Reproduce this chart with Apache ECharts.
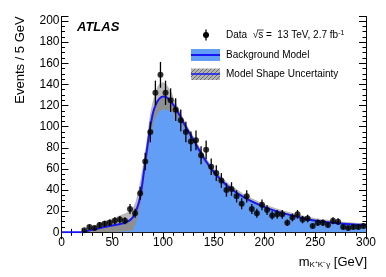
<!DOCTYPE html>
<html>
<head>
<meta charset="utf-8">
<script src="https://cdn.jsdelivr.net/npm/echarts@6/dist/echarts.min.js"></script>
<style>
html,body{margin:0;padding:0;background:#fff;}
#c{width:386px;height:277px;}
</style>
</head>
<body>
<div id="c"></div>
<script>
// ---- data ----
const binCenters = [22.5,27.5,32.5,37.5,42.5,47.5,52.5,57.5,62.5,67.5,72.5,77.5,82.5,87.5,92.5,97.5,102.5,107.5,112.5,117.5,122.5,127.5,132.5,137.5,142.5,147.5,152.5,157.5,162.5,167.5,172.5,177.5,182.5,187.5,192.5,197.5,202.5,207.5,212.5,217.5,222.5,227.5,232.5,237.5,242.5,247.5,252.5,257.5,262.5,267.5,272.5,277.5,282.5,287.5,292.5,297.5];
const counts = [2,5,4,7,8,9,11,12,11,22,18,37,67,95,132,149,132,125,116,106,95,86,87,73,78,62,56,49,40,41,34,27,34,22,18,26,21,16,17,17,9,14,17,12,13,6,9,9,7,11,10,5,4,5,5,6];
const countErr = [1.4,2.2,2.0,2.6,2.8,3.0,3.3,3.5,3.3,4.7,4.2,6.1,8.2,9.7,11.5,12.2,11.5,11.2,10.8,10.3,9.7,9.3,9.3,8.5,8.8,7.9,7.5,7.0,6.3,6.4,5.8,5.2,5.8,4.7,4.2,5.1,4.6,4.0,4.1,4.1,3.0,3.7,4.1,3.5,3.6,2.4,3.0,3.0,2.6,3.3,3.2,2.2,2.0,2.2,2.2,2.4];

const modelMass = [0,20,22,30,40,50,60,65,70,73,76,78,81,84,87,90,93,96,100,104,108,112,116,120,125,130,140,150,163,180,196,212,230,245,260,275,290,300];
const modelBkg  = [0,0,0.4,2.3,4.6,6.4,8.4,10,14,19.5,27.5,35.5,56,77,97,112.5,121,126,128.5,127.5,123.5,118.2,111.5,104.2,95.5,87.5,70.5,57.3,44.3,33,25.5,19.8,15.2,11.8,9.8,8.3,7.3,6.8];
const bandUpper = [0,0,1.5,5,10,13,17,19,23,29,41,51,68,87,110,124,134,140,142,139,133,124,116,108,99,91,74,60.5,47.5,36,28.5,22.5,17.7,14.3,12,10.2,9,8.5];
const bandLower = [0,0,0,0,0,0.3,0.8,1.2,2,8,19,27,46,66,85,100,109,114,116,116,114.5,111,106,100,92,84.5,68,55.2,42.6,31.6,24.3,18.8,14.3,11.1,9.2,7.8,6.8,6.3];

const xTicks = [0,50,100,150,200,250,300];
const yTicks = [0,20,40,60,80,100,120,140,160,180,200];

const FONT = "'Liberation Sans', Arial, Helvetica, sans-serif";

function zip(a,b){return a.map((v,i)=>[v,b[i]]);}
const points = binCenters.map((x,i)=>[x,counts[i],countErr[i]]);

// hatch pattern for legend
const pc = document.createElement('canvas');
pc.width = 4; pc.height = 4;
const pctx = pc.getContext('2d');
pctx.fillStyle = '#b4b4b4'; pctx.fillRect(0,0,4,4);
pctx.strokeStyle = '#6e6e6e'; pctx.lineWidth = 1;
pctx.beginPath(); pctx.moveTo(0,4); pctx.lineTo(4,0); pctx.stroke();

// measure for sqrt overline
const mc = document.createElement('canvas').getContext('2d');
mc.font = "10px " + FONT;
const preW = mc.measureText('Data  √').width;
const sW = mc.measureText('s').width;

const chart = echarts.init(document.getElementById('c'), null, {renderer:'canvas'});

const BLUE_FILL = '#629df6';
const LINE_BLUE = '#1616f5';
const GRAY_LIGHT = '#b9b9b9';
const GRAY_DARK = '#8f8f8f';

const baseX = {
  type:'value', min:0, max:300, interval:50,
  axisLine:{show:true, lineStyle:{color:'#000', width:1}},
  axisTick:{show:true, inside:true, length:7, lineStyle:{color:'#000'}},
  minorTick:{show:true, splitNumber:5, length:3.5, lineStyle:{color:'#000'}},
  splitLine:{show:false}, minorSplitLine:{show:false}
};
const baseY = {
  type:'value', min:0, max:204,
  axisLine:{show:true, lineStyle:{color:'#000', width:1}},
  splitLine:{show:false}
};

const option = {
  animation:false,
  backgroundColor:'#fff',
  textStyle:{fontFamily:FONT},
  grid:{left:61.5, right:20, top:16.7, bottom:44.7, containLabel:false},
  xAxis:[
    Object.assign({}, baseX, {position:'bottom',
      axisLabel:{show:true, color:'#000', fontSize:12, fontFamily:FONT, margin:4,
        formatter:(v)=> xTicks.indexOf(v)>=0 ? String(v) : ''}}),
    Object.assign({}, baseX, {position:'top', axisLabel:{show:false}})
  ],
  yAxis:[
    Object.assign({}, baseY, {position:'left', interval:20,
      axisTick:{show:true, inside:true, length:7, lineStyle:{color:'#000'}},
      axisLabel:{show:true, color:'#000', fontSize:12, fontFamily:FONT, margin:2,
        formatter:(v)=> yTicks.indexOf(v)>=0 ? String(v) : ''}}),
    Object.assign({}, baseY, {position:'left', interval:5,
      axisTick:{show:true, inside:true, length:3.5, lineStyle:{color:'#000'}},
      axisLabel:{show:false}}),
    Object.assign({}, baseY, {position:'right', interval:20,
      axisTick:{show:true, inside:true, length:7, lineStyle:{color:'#000'}},
      axisLabel:{show:false}}),
    Object.assign({}, baseY, {position:'right', interval:5,
      axisTick:{show:true, inside:true, length:3.5, lineStyle:{color:'#000'}},
      axisLabel:{show:false}})
  ],
  series:[
    {type:'line', name:'upper', data:zip(modelMass,bandUpper), smooth:0.25, symbol:'none',
      lineStyle:{width:0}, areaStyle:{color:GRAY_LIGHT, opacity:1}, z:1, silent:true},
    {type:'line', name:'modelUnder', data:zip(modelMass,modelBkg), smooth:0.25, symbol:'none',
      lineStyle:{width:0}, areaStyle:{color:GRAY_DARK, opacity:1}, z:2, silent:true},
    {type:'line', name:'lower', data:zip(modelMass,bandLower), smooth:0.25, symbol:'none',
      lineStyle:{width:0}, areaStyle:{color:BLUE_FILL, opacity:1}, z:3, silent:true},
    {type:'line', name:'Background Model', data:zip(modelMass,modelBkg), smooth:0.25, symbol:'none',
      lineStyle:{width:2, color:LINE_BLUE}, z:4, silent:true},
    {type:'custom', name:'err', data:points, encode:{x:0,y:1}, z:5, silent:true,
      renderItem:(params, api)=>{
        const x = api.value(0), y = api.value(1), e = api.value(2);
        const p1 = api.coord([x, y-e]); const p2 = api.coord([x, y+e]);
        return {type:'line', shape:{x1:p1[0], y1:p1[1], x2:p2[0], y2:p2[1]},
          style:{stroke:'#000', lineWidth:1.3}};
      }},
    {type:'scatter', name:'Data', data:points.map(p=>[p[0],p[1]]), symbol:'circle', symbolSize:6,
      itemStyle:{color:'#000'}, z:6, silent:true}
  ],
  graphic:[
    // ATLAS label
    {type:'text', x:77, y:27.5, style:{text:'ATLAS', font:"italic bold 13px "+FONT, fill:'#000', textVerticalAlign:'middle'}},
    // y axis title
    {type:'text', x:20, y:60, rotation:Math.PI/2,
      style:{text:'Events / 5 GeV', font:"13px "+FONT, fill:'#000', textAlign:'center', textVerticalAlign:'middle'}},
    // x axis title
    {type:'text', x:367, y:261,
      style:{text:'{a|m}{s|K⁺K⁻γ}{a| [GeV]}', textAlign:'right', textVerticalAlign:'middle', fill:'#000',
        rich:{a:{fontSize:13, fontFamily:FONT, fill:'#000', verticalAlign:'bottom', lineHeight:15},
              s:{fontSize:8, fontFamily:FONT, fill:'#000', verticalAlign:'bottom', lineHeight:10}}}},
    // legend: data
    {type:'line', shape:{x1:206, y1:29.5, x2:206, y2:40.5}, style:{stroke:'#000', lineWidth:1.3}},
    {type:'circle', shape:{cx:206, cy:35, r:3}, style:{fill:'#000'}},
    {type:'text', x:226, y:35,
      style:{text:'{a|Data  √s =  13 TeV, 2.7 fb}{b|-1}', textVerticalAlign:'middle', fill:'#000',
        rich:{a:{fontSize:10, fontFamily:FONT, fill:'#000'}, b:{fontSize:7, fontFamily:FONT, fill:'#000', verticalAlign:'top'}}}},
    {type:'line', shape:{x1:226+preW-1, y1:30, x2:226+preW+sW+0.5, y2:30}, style:{stroke:'#000', lineWidth:0.7}},
    // legend: background model
    {type:'rect', shape:{x:191, y:49, width:29, height:12}, style:{fill:BLUE_FILL}},
    {type:'line', shape:{x1:191, y1:55, x2:220, y2:55}, style:{stroke:LINE_BLUE, lineWidth:2}},
    {type:'text', x:226, y:55, style:{text:'Background Model', font:"10px "+FONT, fill:'#000', textVerticalAlign:'middle'}},
    // legend: shape uncertainty
    {type:'rect', shape:{x:191, y:68.5, width:29, height:11.5}, style:{fill:{image:pc, repeat:'repeat'}}},
    {type:'line', shape:{x1:191, y1:74, x2:220, y2:74}, style:{stroke:LINE_BLUE, lineWidth:1.5}},
    {type:'text', x:226, y:74.5, style:{text:'Model Shape Uncertainty', font:"10px "+FONT, fill:'#000', textVerticalAlign:'middle'}}
  ]
};
chart.setOption(option);
</script>
</body>
</html>
